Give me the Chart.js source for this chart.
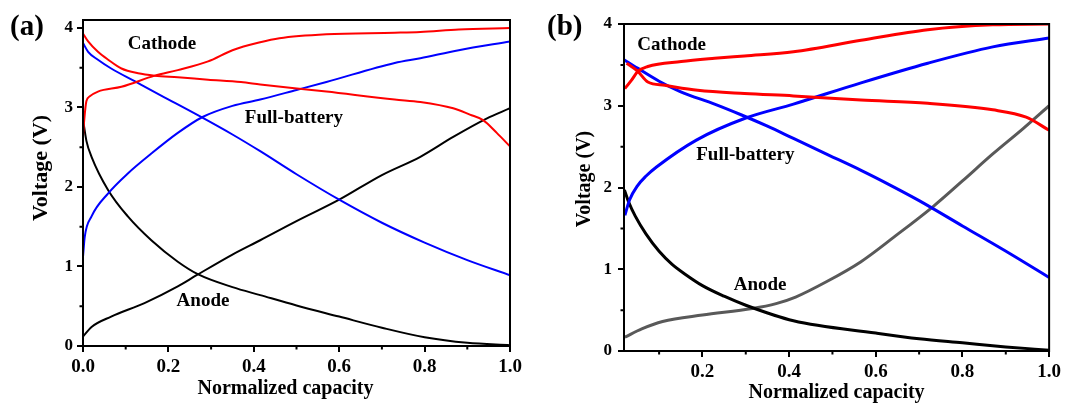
<!DOCTYPE html>
<html>
<head>
<meta charset="utf-8">
<script src="https://cdn.jsdelivr.net/npm/chart.js@4/dist/chart.umd.min.js"></script>
<style>
  body { margin: 0; background: #fff; }
  #wrap { position: relative; width: 1065px; height: 405px; }
  canvas { position: absolute; top: 0; }
</style>
</head>
<body>
<div id="wrap">
  <canvas id="chartA" width="535" height="405" style="left:0"></canvas>
  <canvas id="chartB" width="530" height="405" style="left:535px"></canvas>
</div>
<script>
// --- axis ticks ---
const yTicks = [0, 1, 2, 3, 4];
const yMinor = [0.5, 1.5, 2.5, 3.5];
const xTicksA = [0, 0.2, 0.4, 0.6, 0.8, 1.0];
const xTicksB = [0.2, 0.4, 0.6, 0.8, 1.0];
const xMinor = [0.1, 0.3, 0.5, 0.7, 0.9];

// --- panel (a) ---
const aCathodeChgX = [0, 0.003, 0.008, 0.016, 0.035, 0.09, 0.168, 0.222, 0.293, 0.35, 0.415, 0.46, 0.57, 0.73, 0.79, 0.88, 1.0];
const aCathodeChgY = [2.63, 2.85, 3.08, 3.14, 3.2, 3.26, 3.40, 3.47, 3.58, 3.72, 3.82, 3.87, 3.92, 3.94, 3.95, 3.98, 4.0];
const aCathodeDisX = [0, 0.012, 0.035, 0.059, 0.09, 0.129, 0.168, 0.222, 0.293, 0.37, 0.415, 0.57, 0.73, 0.79, 0.867, 0.906, 0.937, 0.969, 1.0];
const aCathodeDisY = [3.93, 3.83, 3.70, 3.60, 3.49, 3.43, 3.40, 3.38, 3.35, 3.32, 3.29, 3.2, 3.10, 3.07, 2.99, 2.91, 2.84, 2.68, 2.51];
const aFullDisX = [0, 0.012, 0.035, 0.066, 0.121, 0.183, 0.27, 0.35, 0.415, 0.5, 0.6, 0.7, 0.8, 0.9, 1.0];
const aFullDisY = [3.81, 3.70, 3.60, 3.49, 3.33, 3.15, 2.90, 2.66, 2.45, 2.16, 1.84, 1.55, 1.30, 1.08, 0.89];
const aFullChgX = [0, 0.004, 0.02, 0.059, 0.105, 0.16, 0.222, 0.28, 0.35, 0.415, 0.5, 0.57, 0.73, 0.79, 0.88, 1.0];
const aFullChgY = [1.12, 1.37, 1.63, 1.92, 2.17, 2.42, 2.68, 2.88, 3.02, 3.10, 3.22, 3.32, 3.56, 3.62, 3.72, 3.83];
const aAnodeDisX = [0, 0.008, 0.02, 0.059, 0.105, 0.16, 0.222, 0.27, 0.35, 0.415, 0.5, 0.6, 0.7, 0.8, 0.9, 1.0];
const aAnodeDisY = [2.85, 2.58, 2.38, 1.96, 1.63, 1.33, 1.06, 0.90, 0.74, 0.64, 0.51, 0.37, 0.23, 0.11, 0.04, 0.01];
const aAnodeChgX = [0, 0.02, 0.066, 0.144, 0.222, 0.266, 0.35, 0.415, 0.5, 0.6, 0.7, 0.79, 0.867, 0.945, 1.0];
const aAnodeChgY = [0.12, 0.24, 0.37, 0.54, 0.75, 0.89, 1.15, 1.33, 1.57, 1.84, 2.15, 2.38, 2.63, 2.86, 2.99];

// --- panel (b) ---
const bCathodeChgX = [0.021, 0.036, 0.051, 0.074, 0.151, 0.228, 0.297, 0.41, 0.566, 0.72, 0.87, 1.0];
const bCathodeChgY = [3.21, 3.31, 3.42, 3.48, 3.54, 3.58, 3.61, 3.66, 3.80, 3.93, 3.99, 4.0];
const bCathodeDisX = [0.025, 0.051, 0.074, 0.113, 0.189, 0.297, 0.41, 0.566, 0.72, 0.87, 0.947, 1.0];
const bCathodeDisY = [3.52, 3.42, 3.29, 3.25, 3.19, 3.15, 3.12, 3.07, 3.03, 2.95, 2.86, 2.70];
const bFullDisX = [0.02, 0.05, 0.1, 0.15, 0.228, 0.289, 0.35, 0.41, 0.49, 0.566, 0.633, 0.70, 0.8, 0.91, 1.0];
const bFullDisY = [3.56, 3.46, 3.30, 3.17, 3.02, 2.89, 2.75, 2.60, 2.40, 2.21, 2.03, 1.84, 1.53, 1.19, 0.90];
const bFullChgX = [0.021, 0.032, 0.05, 0.07, 0.094, 0.186, 0.30, 0.41, 0.566, 0.72, 0.87, 1.0];
const bFullChgY = [1.66, 1.85, 2.02, 2.14, 2.25, 2.58, 2.85, 3.02, 3.28, 3.52, 3.72, 3.83];
const bAnodeDisX = [0.02, 0.03, 0.045, 0.07, 0.1, 0.13, 0.16, 0.2, 0.25, 0.30, 0.41, 0.6, 0.7, 0.8, 0.9, 1.0];
const bAnodeDisY = [1.97, 1.82, 1.65, 1.43, 1.22, 1.06, 0.94, 0.80, 0.67, 0.56, 0.37, 0.22, 0.15, 0.10, 0.05, 0.01];
const bAnodeChgX = [0.021, 0.06, 0.108, 0.2, 0.315, 0.37, 0.415, 0.487, 0.565, 0.641, 0.733, 0.8, 0.87, 0.94, 1.0];
const bAnodeChgY = [0.17, 0.27, 0.36, 0.44, 0.52, 0.58, 0.66, 0.85, 1.09, 1.39, 1.77, 2.08, 2.41, 2.72, 3.0];

const RED = '#ff0000', BLUE = '#0000ff', BLACK = '#000000', GREY = '#595959';
const SERIF = '"Liberation Serif", "Times New Roman", serif';

Chart.defaults.font.family = SERIF;
Chart.defaults.font.weight = 'bold';
Chart.defaults.color = '#000';

function pts(xs, ys) {
    return xs.map((v, i) => ({ x: v, y: ys[i] }));
}

function line(xs, ys, color, width) {
    return {
        data: pts(xs, ys),
        borderColor: color,
        borderWidth: width,
        pointRadius: 0,
        fill: false,
        cubicInterpolationMode: 'monotone'
    };
}

// box around the plot, minor ticks, axis titles, curve names and panel letter
const decor = {
    id: 'decor',
    afterDraw(chart, args, opts) {
        const { ctx, chartArea: a } = chart;
        const x = chart.scales.x, y = chart.scales.y;
        ctx.save();
        ctx.strokeStyle = '#000';
        ctx.lineWidth = 2;
        ctx.strokeRect(a.left, a.top, a.right - a.left, a.bottom - a.top);

        ctx.beginPath();
        xMinor.forEach(v => {
            if (v < x.min) return;
            const px = x.getPixelForValue(v);
            ctx.moveTo(px, a.bottom);
            ctx.lineTo(px, a.bottom + 3.5);
        });
        yMinor.forEach(v => {
            const py = y.getPixelForValue(v);
            ctx.moveTo(a.left, py);
            ctx.lineTo(a.left - 3.5, py);
        });
        ctx.stroke();

        ctx.fillStyle = '#000';
        ctx.textAlign = 'center';
        ctx.textBaseline = 'middle';

        // axis titles
        ctx.font = 'bold 20px ' + SERIF;
        ctx.fillText('Normalized capacity', (a.left + a.right) / 2 + opts.xTitleShift, opts.xTitleY);
        ctx.save();
        ctx.translate(opts.yTitleX, opts.yTitleY);
        ctx.rotate(-Math.PI / 2);
        ctx.font = 'bold ' + opts.yTitleSize + 'px ' + SERIF;
        ctx.fillText('Voltage (V)', 0, 0);
        ctx.restore();

        // curve names
        ctx.font = 'bold 19px ' + SERIF;
        opts.notes.forEach(n => {
            ctx.fillText(n.text, x.getPixelForValue(n.x), y.getPixelForValue(n.y));
        });

        ctx.textAlign = 'left';
        ctx.textBaseline = 'alphabetic';
        ctx.font = 'bold 29px ' + SERIF;
        ctx.fillText(opts.panel, opts.panelX, 35);
        ctx.restore();
    }
};

function makeChart(id, cfg) {
    const gridOpts = { drawOnChartArea: false, drawTicks: true, tickLength: 6, color: '#000', lineWidth: 2 };
    return new Chart(document.getElementById(id), {
        type: 'line',
        data: { datasets: cfg.datasets },
        plugins: [decor],
        options: {
            responsive: false,
            animation: false,
            devicePixelRatio: 1,
            layout: { padding: cfg.padding },
            plugins: {
                legend: { display: false },
                tooltip: { enabled: false },
                decor: cfg.decor
            },
            scales: {
                x: {
                    type: 'linear',
                    min: cfg.xMin,
                    max: 1,
                    afterBuildTicks: s => { s.ticks = cfg.xTicks.map(v => ({ value: v })); },
                    afterFit: s => { s.height = cfg.xHeight; },
                    ticks: { font: { size: 19, weight: 'bold' }, padding: 4, maxRotation: 0, callback: v => v.toFixed(1) },
                    grid: gridOpts,
                    border: { color: '#000', width: 2 }
                },
                y: {
                    min: 0,
                    max: cfg.yMax,
                    afterBuildTicks: s => { s.ticks = yTicks.map(v => ({ value: v })); },
                    afterFit: s => { s.width = cfg.yWidth; },
                    ticks: { font: { size: 17, weight: 'bold' }, padding: cfg.yTickPad, callback: v => v.toFixed(0) },
                    grid: gridOpts,
                    border: { color: '#000', width: 2 }
                }
            }
        }
    });
}

makeChart('chartA', {
    datasets: [
        line(aCathodeChgX, aCathodeChgY, RED, 2),
        line(aCathodeDisX, aCathodeDisY, RED, 2),
        line(aFullDisX, aFullDisY, BLUE, 2),
        line(aFullChgX, aFullChgY, BLUE, 2),
        line(aAnodeDisX, aAnodeDisY, BLACK, 2),
        line(aAnodeChgX, aAnodeChgY, BLACK, 2)
    ],
    padding: { left: 25, right: 25, top: 20, bottom: 0 },
    xMin: 0, xTicks: xTicksA, yMax: 4.1,
    xHeight: 59, yWidth: 58, yTickPad: 4,
    decor: {
        notes: [
            { text: 'Cathode', x: 0.185, y: 3.80 },
            { text: 'Full-battery', x: 0.494, y: 2.87 },
            { text: 'Anode', x: 0.281, y: 0.57 }
        ],
        panel: '(a)', panelX: 10,
        xTitleShift: -11, xTitleY: 389,
        yTitleX: 41, yTitleY: 168, yTitleSize: 22
    }
});

makeChart('chartB', {
    datasets: [
        line(bCathodeChgX, bCathodeChgY, RED, 3),
        line(bCathodeDisX, bCathodeDisY, RED, 3),
        line(bFullDisX, bFullDisY, BLUE, 3),
        line(bFullChgX, bFullChgY, BLUE, 3),
        line(bAnodeDisX, bAnodeDisY, BLACK, 3),
        line(bAnodeChgX, bAnodeChgY, GREY, 3)
    ],
    padding: { left: 30, right: 14, top: 24, bottom: 0 },
    xMin: 0.019, xTicks: xTicksB, yMax: 4,
    xHeight: 54, yWidth: 59, yTickPad: 6,
    decor: {
        notes: [
            { text: 'Cathode', x: 0.129, y: 3.74 },
            { text: 'Full-battery', x: 0.299, y: 2.40 },
            { text: 'Anode', x: 0.333, y: 0.81 }
        ],
        panel: '(b)', panelX: 12,
        xTitleShift: 0, xTitleY: 393,
        yTitleX: 50, yTitleY: 179, yTitleSize: 20
    }
});
</script>
</body>
</html>
